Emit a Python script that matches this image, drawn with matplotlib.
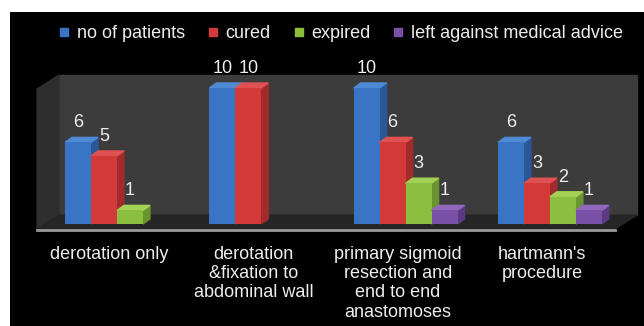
import matplotlib.pyplot as plt
from matplotlib.patches import Polygon
from matplotlib.lines import Line2D

plt.rcParams['font.family'] = ['Liberation Sans', 'DejaVu Sans']

categories = ['derotation only', 'derotation\n&fixation to\nabdominal wall',
              'primary sigmoid\nresection and\nend to end\nanastomoses',
              "hartmann's\nprocedure"]
series_names = ['no of patients', 'cured', 'expired', 'left against medical advice']
no_of_patients = [6, 10, 10, 6]
cured = [5, 10, 6, 3]
expired = [1, 0, 3, 2]
left_ama = [0, 0, 1, 1]
values = [no_of_patients, cured, expired, left_ama]

# front / side / top colours per series
front = ['#3a74c4', '#d23a3a', '#8cbf3f', '#7a4fa6']
side = ['#29579a', '#a12a2a', '#6a9430', '#5b3a80']
top = ['#4f8ad6', '#e05252', '#a3d155', '#9068bb']

fig = plt.figure(figsize=(6.44, 3.26), dpi=100, facecolor='white')
ax = fig.add_axes([10 / 644, 0, 634 / 644, 314 / 326])
ax.set_facecolor('black')
ax.set_xlim(-0.7415, 3.652)
ax.set_ylim(-7.5, 15.59)
ax.axis('off')
ax.add_patch(plt.Rectangle((0, 0), 1, 1, transform=ax.transAxes, color='black', zorder=0))

# 3d box: side wall, floor, back wall
fy, by, wt = -0.37, 0.66, 10.96
lx, lbx, rbx, rfx = -0.554, -0.402, 3.604, 3.451
ax.add_patch(Polygon([(lbx, by), (rbx, by), (rbx, wt), (lbx, wt)], color='#3c3c3c', zorder=1))
ax.add_patch(Polygon([(lx, fy), (lx, 9.93), (lbx, wt), (lbx, by)], color='#2e2e2e', zorder=1))
ax.add_patch(Polygon([(lx, fy), (lbx, by), (rbx, by), (rfx, fy)], color='#262626', zorder=1))
ax.plot([lx, rfx], [fy - 0.1, fy - 0.1], color='#9a9a9a', lw=2, zorder=2)

w = 0.18
dx, dy = 0.0485, 0.37
z = 3
for i in range(len(categories)):
    for j, vals in enumerate(values):
        v = vals[i]
        if v == 0:
            continue
        x0 = i - 2 * w + j * w
        ax.add_patch(Polygon([(x0 + w, 0), (x0 + w + dx, dy), (x0 + w + dx, v + dy), (x0 + w, v)],
                             color=side[j], zorder=z))
        ax.add_patch(Polygon([(x0, v), (x0 + dx, v + dy), (x0 + w + dx, v + dy), (x0 + w, v)],
                             color=top[j], zorder=z))
        ax.bar(x0, v, width=w, align='edge', color=front[j], zorder=z + 1)
        ax.text(x0 + w / 2, v + dy + 0.45, str(v), ha='center', va='bottom',
                color='#eeeeee', fontsize=13, zorder=20)
        z += 2

for i, c in enumerate(categories):
    ax.text(i - 0.055, -1.6, c, ha='center', va='top', color='#eeeeee',
            fontsize=13, linespacing=1.18)

handles = [Line2D([], [], marker='s', linestyle='none', markersize=6,
                  markerfacecolor=front[j], markeredgecolor=front[j]) for j in range(4)]
fig.legend(handles, series_names, loc='center', bbox_to_anchor=(340 / 644, 1 - 34 / 326),
           ncol=4, frameon=False, labelcolor='#eeeeee', fontsize=13,
           handletextpad=0.3, columnspacing=1.15, handlelength=0.8)

fig.savefig('out.png', dpi=100, facecolor='white')
